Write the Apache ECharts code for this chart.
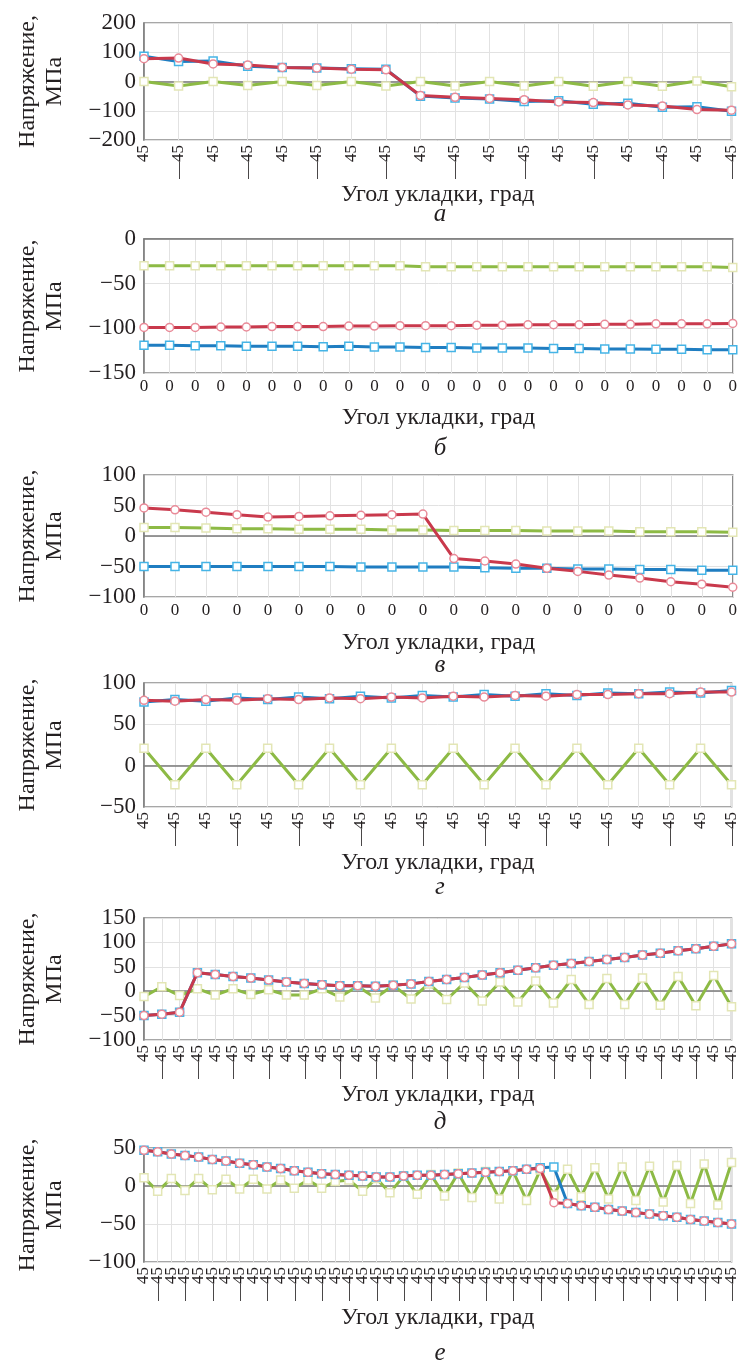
<!DOCTYPE html>
<html>
<head>
<meta charset="utf-8">
<script src="https://cdn.jsdelivr.net/npm/echarts@6/dist/echarts.min.js"></script>
<style>
  html, body { margin: 0; padding: 0; background: #ffffff; }
  #chart { width: 740px; height: 1363px; }
</style>
</head>
<body>
<div id="chart"></div>
<script>
// Ply-angle tick labels for each laminate
const catsA = ['45','—45','45','—45','45','—45','45','—45','45','—45','45','—45','45','—45','45','—45','45','—45'];
const catsB = ['0','0','0','0','0','0','0','0','0','0','0','0','0','0','0','0','0','0','0','0','0','0','0','0'];
const catsV = ['0','0','0','0','0','0','0','0','0','0','0','0','0','0','0','0','0','0','0','0'];
const catsG = ['45','—45','45','—45','45','—45','45','—45','45','—45','45','—45','45','—45','45','—45','45','—45','45','—45'];
const catsD = ['45','—45','45','—45','45','—45','45','—45','45','—45','45','—45','45','—45','45','—45','45','—45',
               '45','—45','45','—45','45','—45','45','—45','45','—45','45','—45','45','—45','45','—45'];
const catsE = ['45','—45','45','—45','45','—45','45','—45','45','—45','45','—45','45','—45','45','—45','45','—45',
               '45','—45','45','—45','45','—45','45','—45','45','—45','45','—45','45','—45','45','—45',
               '45','—45','45','—45','45','—45','45','—45','45','—45'];

// Stresses, MPa (blue, red, green components)
const blueA  = [86, 68, 70, 52, 48, 46, 44, 42, -50, -56, -60, -68, -66, -78, -74, -88, -86, -102];
const redA   = [78, 80, 60, 56, 48, 46, 42, 40, -48, -54, -58, -62, -70, -72, -80, -84, -96, -98];
const greenA = [0, -15, 0, -14, 0, -14, 0, -15, 0, -15, 0, -15, 0, -16, 0, -16, 2, -18];

const blueB  = [-119, -119, -119.5, -119.5, -120, -120, -120, -120.5, -120, -121, -121, -121.5,
                -121.5, -122, -122, -122, -122.5, -122.5, -123, -123, -123.5, -123.5, -124, -124];
const redB   = [-99, -99, -99, -98.5, -98.5, -98, -98, -98, -97.5, -97.5, -97, -97,
                -97, -96.5, -96.5, -96, -96, -96, -95.5, -95.5, -95, -95, -95, -94.5];
const greenB = [-30, -30, -30, -30, -30, -30, -30, -30, -30, -30, -30, -31,
                -31, -31, -31, -31, -31, -31, -31, -31, -31, -31, -31, -32];

const blueV  = [-50, -50, -50, -50, -50, -50, -50, -51, -51, -51, -51, -52, -53, -53, -54, -54, -55, -55, -56, -56];
const redV   = [46, 43, 39, 35, 31, 32, 33, 34, 35, 36, -37, -41, -46, -53, -58, -64, -69, -75, -79, -84];
const greenV = [14, 14, 13, 12, 12, 11, 11, 11, 10, 10, 9, 9, 9, 8, 8, 8, 7, 7, 7, 6];

const blueG  = [77, 80, 78, 82, 80, 83, 81, 84, 82, 85, 83, 86, 84, 87, 85, 88, 87, 89, 88, 91];
const redG   = [79, 78, 80, 79, 81, 80, 82, 81, 83, 82, 84, 83, 85, 84, 86, 86, 87, 87, 89, 89];
const greenG = [21, -23, 21, -23, 21, -23, 21, -23, 21, -23, 21, -23, 21, -23, 21, -23, 21, -23, 21, -23];

const blueD  = [-50, -47, -43, 38, 34, 30, 27, 23, 19, 16, 13, 11, 11, 10, 12, 15, 20,
                24, 28, 33, 38, 43, 48, 53, 57, 61, 65, 69, 74, 78, 83, 87, 92, 97];
const redD   = [-50, -47, -43, 38, 34, 30, 27, 23, 19, 16, 13, 11, 11, 10, 12, 15, 20,
                24, 28, 33, 38, 43, 48, 53, 57, 61, 65, 69, 74, 78, 83, 87, 92, 97];
const greenD = [-11, 9, -9, 5, -8, 5, -7, 3, -8, -8, 5, -12, 10, -14, 12, -16, 15,
                -17, 17, -20, 19, -22, 21, -24, 24, -27, 26, -27, 27, -29, 30, -30, 32, -32];

const blueE  = [47, 45, 42, 40, 38, 35, 33, 30, 28, 25, 23, 20, 18, 16, 15, 14, 13, 12, 12, 13, 14, 14,
                15, 16, 17, 18, 19, 20, 22, 24, 25, -23, -26, -28, -31, -33, -35, -37, -39, -41, -44, -46, -48, -50];
const redE   = [47, 45, 42, 40, 38, 35, 33, 30, 28, 25, 23, 20, 18, 16, 15, 14, 13, 12, 12, 13, 14, 14,
                15, 16, 17, 18, 19, 20, 22, 23, -22, -23, -26, -28, -31, -33, -35, -37, -39, -41, -44, -46, -48, -50];
const greenE = [11, -7, 10, -6, 10, -5, 9, -4, 9, -4, 8, -3, 8, -3, 6, 8, -7, 10, -9, 13, -11, 15,
                -13, 17, -15, 19, -17, 20, -19, 21, -12, 22, -14, 24, -17, 25, -19, 26, -21, 27, -23, 29, -25, 31];

const SERIF = '"Liberation Serif", "DejaVu Serif", serif';
const INK = '#231f20';

const panels = [
  { cats: catsA, blue: blueA, red: redA, green: greenA, min: -200, max: 200, step: 100, top: 23,   height: 117, rotate: 90, nameGap: 38, letter: 'а', letterY: 214 },
  { cats: catsB, blue: blueB, red: redB, green: greenB, min: -150, max: 0,   step: 50,  top: 239,  height: 134, rotate: 0,  nameGap: 33, letter: 'б', letterY: 448 },
  { cats: catsV, blue: blueV, red: redV, green: greenV, min: -100, max: 100, step: 50,  top: 475,  height: 122, rotate: 0,  nameGap: 34, letter: 'в', letterY: 665 },
  { cats: catsG, blue: blueG, red: redG, green: greenG, min: -50,  max: 100, step: 50,  top: 683,  height: 124, rotate: 90, nameGap: 44, letter: 'г', letterY: 887 },
  { cats: catsD, blue: blueD, red: redD, green: greenD, min: -100, max: 150, step: 50,  top: 918,  height: 122, rotate: 90, nameGap: 40, letter: 'д', letterY: 1122 },
  { cats: catsE, blue: blueE, red: redE, green: greenE, min: -100, max: 50,  step: 50,  top: 1148, height: 114, rotate: 90, nameGap: 44, letter: 'е', letterY: 1353 }
];

const grids = [], xAxes = [], yAxes = [], series = [], graphics = [];

panels.forEach((p, i) => {
  grids.push({
    left: 144, right: 4, top: p.top, height: p.height,
    show: true, borderColor: '#8a8a8a', borderWidth: 1.5, backgroundColor: 'transparent'
  });
  xAxes.push({
    type: 'category', gridIndex: i, data: p.cats, boundaryGap: false,
    axisLine: { show: true, lineStyle: { color: '#7a7a7a', width: 1.5 } },
    axisTick: { show: false },
    axisLabel: {
      interval: 0, rotate: p.rotate, margin: 5, hideOverlap: false,
      fontFamily: SERIF, fontSize: 17, color: INK
    },
    splitLine: { show: true, interval: 0, lineStyle: { color: '#e2e2e2', width: 1 } },
    name: 'Угол укладки, град', nameLocation: 'middle', nameGap: p.nameGap,
    nameTextStyle: { fontFamily: SERIF, fontSize: 24, color: INK }
  });
  yAxes.push({
    type: 'value', gridIndex: i, min: p.min, max: p.max, interval: p.step,
    axisLine: { show: true, lineStyle: { color: '#7a7a7a', width: 1.5 } },
    axisTick: { show: false },
    axisLabel: {
      margin: 8, fontFamily: SERIF, fontSize: 23, color: INK,
      formatter: v => String(v).replace('-', '−')
    },
    splitLine: { show: true, lineStyle: { color: '#e2e2e2', width: 1 } },
    name: 'Напряжение,\nМПа', nameLocation: 'middle', nameRotate: 90, nameGap: 76,
    nameTextStyle: { fontFamily: SERIF, fontSize: 24, lineHeight: 27, color: INK }
  });

  const common = { xAxisIndex: i, yAxisIndex: i, type: 'line', symbolSize: 8, animation: false,
                   emphasis: { disabled: true }, silent: true };
  series.push(Object.assign({}, common, {
    data: p.green, symbol: 'rect', z: 2,
    lineStyle: { color: '#8dba45', width: 3 },
    itemStyle: { color: '#ffffff', borderColor: '#e3e6b5', borderWidth: 1.5 }
  }));
  series.push(Object.assign({}, common, {
    data: p.blue, symbol: 'rect', z: 3,
    lineStyle: { color: '#1f7dc1', width: 3 },
    itemStyle: { color: '#ffffff', borderColor: '#45b4e6', borderWidth: 1.5 }
  }));
  series.push(Object.assign({}, common, {
    data: p.red, symbol: 'circle', z: 4,
    lineStyle: { color: '#c9394c', width: 3 },
    itemStyle: { color: '#ffffff', borderColor: '#e98a98', borderWidth: 1.5 }
  }));

  graphics.push({
    type: 'text', x: 440, y: p.letterY,
    style: { text: p.letter, align: 'center', verticalAlign: 'middle',
             font: 'italic 25px ' + SERIF, fill: INK }
  });
});

const chart = echarts.init(document.getElementById('chart'), null, { renderer: 'canvas' });
chart.setOption({
  animation: false,
  backgroundColor: '#ffffff',
  grid: grids,
  xAxis: xAxes,
  yAxis: yAxes,
  series: series,
  graphic: graphics
});
</script>
</body>
</html>
